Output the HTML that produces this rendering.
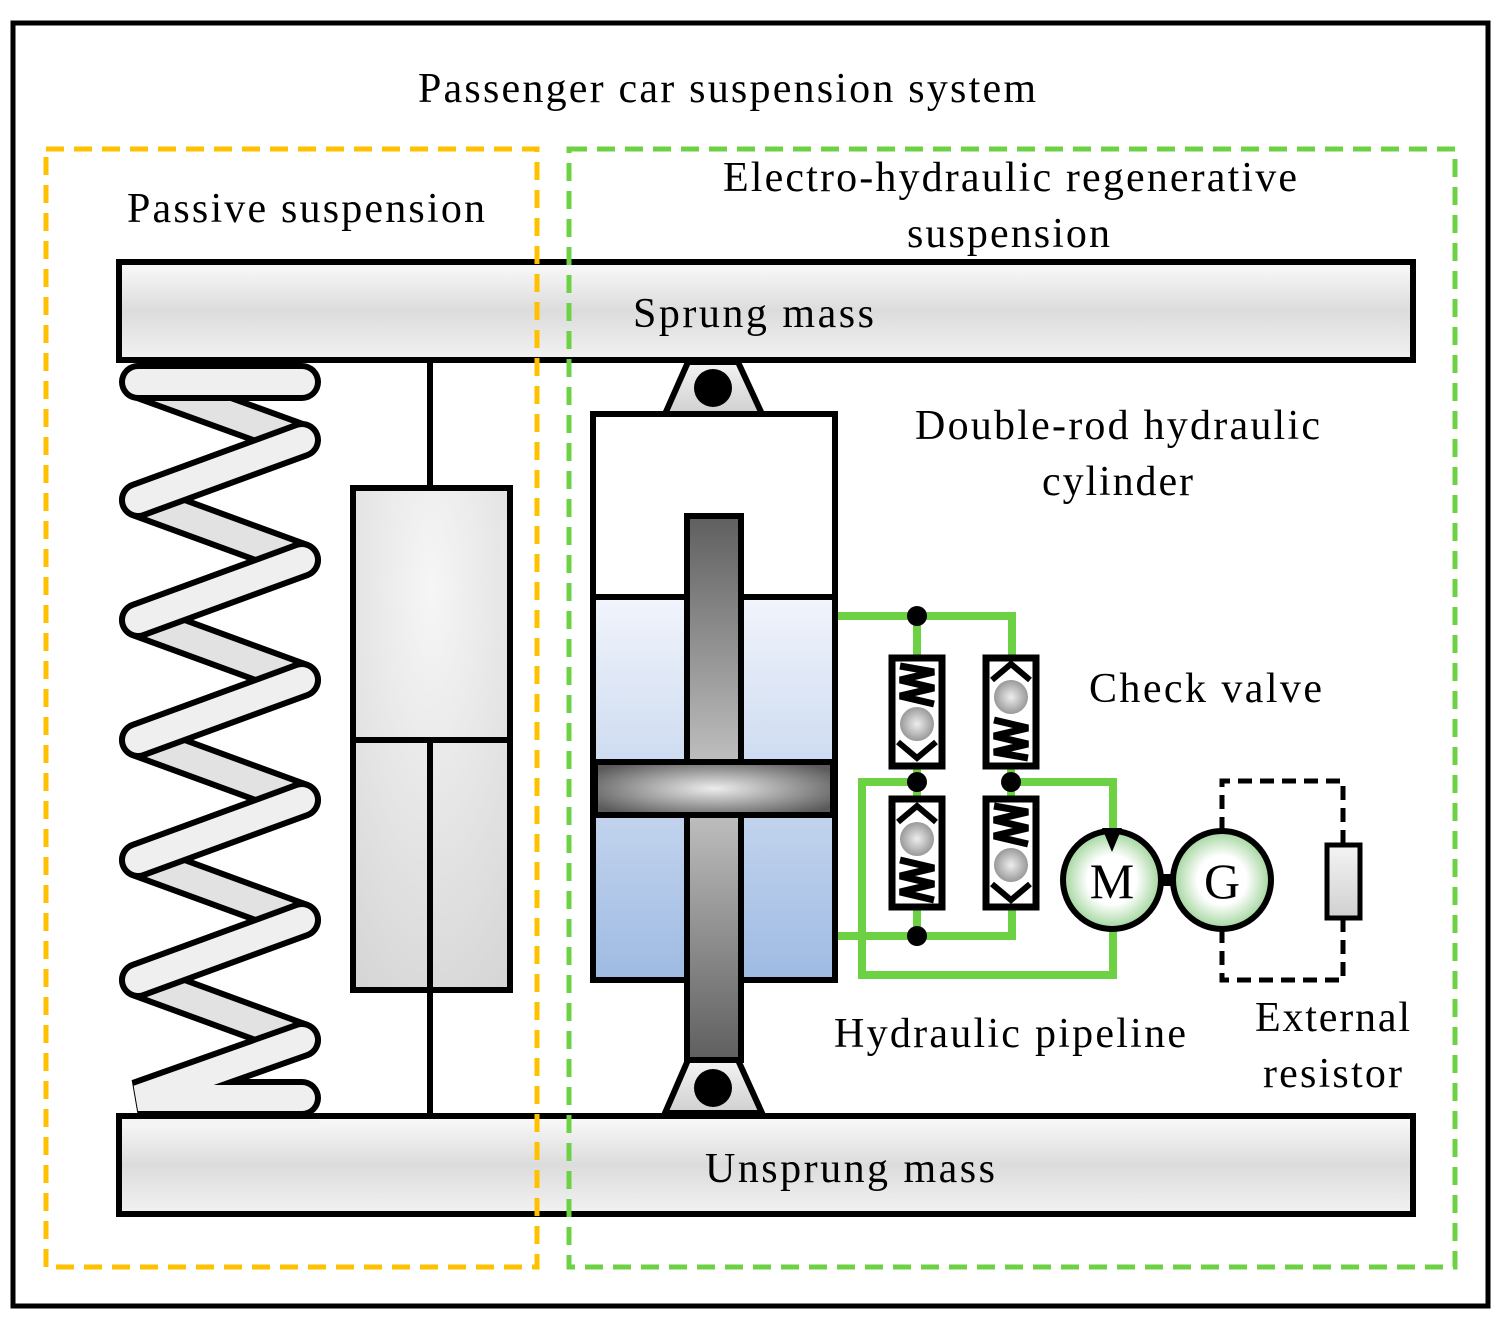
<!DOCTYPE html>
<html><head><meta charset="utf-8"><style>
html,body{margin:0;padding:0;background:#fff}
svg{display:block}
text{font-family:"Liberation Serif",serif;fill:#000}
</style></head><body>
<svg width="1510" height="1327" viewBox="0 0 1510 1327" xmlns="http://www.w3.org/2000/svg">
<defs>
<linearGradient id="bar" x1="0" y1="0" x2="0" y2="1"><stop offset="0" stop-color="#fafafa"/><stop offset="0.5" stop-color="#dcdcdc"/><stop offset="1" stop-color="#f2f2f2"/></linearGradient>
<radialGradient id="damp" cx="0.5" cy="0.2" r="0.9"><stop offset="0" stop-color="#f6f6f6"/><stop offset="1" stop-color="#d6d6d6"/></radialGradient>
<linearGradient id="fluid" x1="0" y1="0" x2="0" y2="1"><stop offset="0" stop-color="#f1f4fb"/><stop offset="1" stop-color="#9fbbe3"/></linearGradient>
<linearGradient id="rod" x1="0" y1="0" x2="0" y2="1"><stop offset="0" stop-color="#5f5f5f"/><stop offset="0.5" stop-color="#c8c8c8"/><stop offset="1" stop-color="#5f5f5f"/></linearGradient>
<radialGradient id="pist" cx="0.5" cy="0.5" r="0.6"><stop offset="0" stop-color="#ededed"/><stop offset="1" stop-color="#5a5a5a"/></radialGradient>
<radialGradient id="ball" cx="0.5" cy="0.5" r="0.5"><stop offset="0" stop-color="#eee"/><stop offset="1" stop-color="#999"/></radialGradient>
<radialGradient id="mg" cx="0.5" cy="0.5" r="0.5"><stop offset="0.5" stop-color="#fff"/><stop offset="1" stop-color="#9fd49a"/></radialGradient>
<linearGradient id="mount" x1="0" y1="0" x2="0" y2="1"><stop offset="0" stop-color="#f4f4f4"/><stop offset="1" stop-color="#d0d0d0"/></linearGradient>
</defs>
<rect x="13" y="23" width="1475" height="1283" fill="#fff" stroke="#000" stroke-width="5"/>
<text x="418" y="102" font-size="42" textLength="618" lengthAdjust="spacing">Passenger car suspension system</text>

<!-- bars -->
<rect x="119" y="262" width="1294" height="98" fill="url(#bar)" stroke="#000" stroke-width="6"/>
<rect x="119" y="1116" width="1294" height="98" fill="url(#bar)" stroke="#000" stroke-width="6"/>
<text x="633" y="327" font-size="42" textLength="241" lengthAdjust="spacing">Sprung mass</text>
<text x="705" y="1182" font-size="42" textLength="290" lengthAdjust="spacing">Unsprung mass</text>

<!-- spring -->
<g stroke-linecap="round" fill="none">
<g stroke="#000" stroke-width="38">
<path d="M140 382 L300 440 M138 500 L302 560 M138 620 L302 680 M138 740 L302 800 M138 860 L302 920 M138 980 L302 1040"/>
</g>
<g stroke="#e2e2e2" stroke-width="26">
<path d="M140 382 L300 440 M138 500 L302 560 M138 620 L302 680 M138 740 L302 800 M138 860 L302 920 M138 980 L302 1040"/>
</g>
<g stroke="#000" stroke-width="38">
<path d="M138 382 L302 382 M302 440 L138 500 M302 560 L138 620 M302 680 L138 740 M302 800 L138 860 M302 920 L138 980 M302 1040 L138 1098 L302 1098"/>
</g>
<g stroke="#efefef" stroke-width="26">
<path d="M138 382 L302 382 M302 440 L138 500 M302 560 L138 620 M302 680 L138 740 M302 800 L138 860 M302 920 L138 980 M302 1040 L138 1098 L302 1098"/>
</g>
</g>
<rect x="119" y="1116" width="200" height="8" fill="#f4f4f4"/>
<line x1="116" y1="1116" x2="1416" y2="1116" stroke="#000" stroke-width="6"/>
<line x1="119" y1="1116" x2="119" y2="1130" stroke="#000" stroke-width="6"/>

<!-- damper -->
<line x1="430" y1="362" x2="430" y2="488" stroke="#000" stroke-width="6"/>
<rect x="353" y="488" width="157" height="502" fill="url(#damp)" stroke="#000" stroke-width="6"/>
<line x1="353" y1="740" x2="510" y2="740" stroke="#000" stroke-width="6"/>
<line x1="430" y1="740" x2="430" y2="1113" stroke="#000" stroke-width="6"/>

<!-- cylinder -->
<polygon points="688,362 738,362 762,414 665,414" fill="url(#mount)" stroke="#000" stroke-width="6"/>
<circle cx="713" cy="388" r="19" fill="#000"/>
<polygon points="688,1060 738,1060 762,1113 665,1113" fill="url(#mount)" stroke="#000" stroke-width="6"/>
<circle cx="713" cy="1088" r="19" fill="#000"/>
<rect x="593" y="414" width="242" height="566" fill="#fff" stroke="#000" stroke-width="6"/>
<rect x="596" y="598" width="236" height="379" fill="url(#fluid)"/>
<line x1="593" y1="597" x2="835" y2="597" stroke="#000" stroke-width="6"/>
<rect x="687" y="516" width="54" height="544" fill="url(#rod)" stroke="#000" stroke-width="6"/>
<rect x="595" y="762" width="238" height="53" fill="url(#pist)" stroke="#000" stroke-width="6"/>
<text x="915" y="439" font-size="42" textLength="405" lengthAdjust="spacing">Double-rod hydraulic</text>
<text x="1042" y="495" font-size="42" textLength="151" lengthAdjust="spacing">cylinder</text>

<!-- pipes -->
<g stroke="#6dd144" stroke-width="8" fill="none">
<path d="M838 616 H1012 V660"/>
<path d="M917 616 V660"/>
<path d="M917 765 V800"/>
<path d="M1011 765 V800"/>
<path d="M917 782 H862 V975 H1113 V930"/>
<path d="M1011 782 H1113 V830"/>
<path d="M838 936 H1012 V905"/>
<path d="M917 905 V936"/>
</g>
<g fill="#000">
<circle cx="917" cy="616" r="10"/><circle cx="917" cy="782" r="10"/><circle cx="1011" cy="782" r="10"/><circle cx="917" cy="936" r="10"/>
</g>

<!-- check valves -->
<g>
<rect x="892" y="658" width="50" height="108" fill="#fff" stroke="#000" stroke-width="7"/>
<polyline points="900,666 934,672 900,680 934,688 900,696 934,704" fill="none" stroke="#000" stroke-width="7"/>
<circle cx="917" cy="724" r="17" fill="url(#ball)"/>
<polyline points="898,742 917,758 936,742" fill="none" stroke="#000" stroke-width="6"/>
</g>
<g>
<rect x="986" y="658" width="50" height="108" fill="#fff" stroke="#000" stroke-width="7"/>
<polyline points="992,680 1011,664 1030,680" fill="none" stroke="#000" stroke-width="6"/>
<circle cx="1011" cy="697" r="17" fill="url(#ball)"/>
<polyline points="994,720 1028,728 994,736 1028,744 994,752 1028,758" fill="none" stroke="#000" stroke-width="7"/>
</g>
<g>
<rect x="892" y="799" width="50" height="108" fill="#fff" stroke="#000" stroke-width="7"/>
<polyline points="898,822 917,806 936,822" fill="none" stroke="#000" stroke-width="6"/>
<circle cx="917" cy="839" r="17" fill="url(#ball)"/>
<polyline points="900,860 934,868 900,876 934,884 900,892 934,900" fill="none" stroke="#000" stroke-width="7"/>
</g>
<g>
<rect x="986" y="799" width="50" height="108" fill="#fff" stroke="#000" stroke-width="7"/>
<polyline points="994,806 1028,812 994,820 1028,828 994,836 1028,844" fill="none" stroke="#000" stroke-width="7"/>
<circle cx="1011" cy="865" r="17" fill="url(#ball)"/>
<polyline points="992,884 1011,900 1030,884" fill="none" stroke="#000" stroke-width="6"/>
</g>
<text x="1089" y="702" font-size="42" textLength="233" lengthAdjust="spacing">Check valve</text>

<!-- motor / generator -->
<line x1="1160" y1="880" x2="1175" y2="880" stroke="#000" stroke-width="12"/>
<circle cx="1112" cy="880" r="49" fill="url(#mg)" stroke="#000" stroke-width="6"/>
<polygon points="1102,828 1122,828 1112,852" fill="#000"/>
<text x="1112" y="898" font-size="50" text-anchor="middle">M</text>
<circle cx="1222" cy="880" r="49" fill="url(#mg)" stroke="#000" stroke-width="6"/>
<text x="1222" y="898" font-size="50" text-anchor="middle">G</text>
<path d="M1222 831 V781 H1343 V845 M1343 918 V980 H1222 V929" fill="none" stroke="#000" stroke-width="5" stroke-dasharray="14,8"/>
<rect x="1327" y="845" width="33" height="73" fill="url(#mount)" stroke="#000" stroke-width="5"/>

<text x="834" y="1047" font-size="42" textLength="352" lengthAdjust="spacing">Hydraulic pipeline</text>
<text x="1255" y="1031" font-size="42" textLength="155" lengthAdjust="spacing">External</text>
<text x="1263" y="1087" font-size="42" textLength="139" lengthAdjust="spacing">resistor</text>

<!-- group boxes -->
<rect x="46" y="149" width="491" height="1118" fill="none" stroke="#ffc000" stroke-width="5" stroke-dasharray="18,10"/>
<rect x="569" y="149" width="886" height="1118" fill="none" stroke="#6dd144" stroke-width="5" stroke-dasharray="18,10"/>
<text x="127" y="222" font-size="42" textLength="358" lengthAdjust="spacing">Passive suspension</text>
<text x="723" y="191" font-size="42" textLength="574" lengthAdjust="spacing">Electro-hydraulic regenerative</text>
<text x="907" y="247" font-size="42" textLength="203" lengthAdjust="spacing">suspension</text>
</svg>
</body></html>
